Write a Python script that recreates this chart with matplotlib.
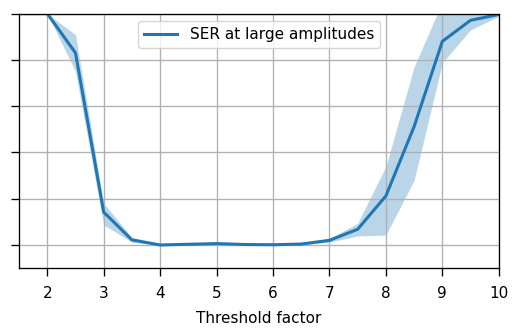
import matplotlib
matplotlib.use("Agg")
import matplotlib.pyplot as plt

x = [1.5, 2.0, 2.5, 3.0, 3.5, 4.0, 4.5, 5.0, 5.5, 6.0, 6.5, 7.0, 7.5, 8.0, 8.5, 9.0, 9.5, 10.0]
ser = [1.0, 1.0, 0.83, 0.142, 0.022, 0.0, 0.003, 0.006, 0.002, 0.001, 0.004, 0.02, 0.068, 0.212, 0.512, 0.88, 0.971, 0.996]
upper = [1.0, 1.0, 0.909, 0.18, 0.032, 0.004, 0.007, 0.01, 0.006, 0.004, 0.008, 0.028, 0.094, 0.34, 0.77, 1.05, 1.05, 1.05]
lower = [1.0, 1.0, 0.75, 0.087, 0.012, 0.0, 0.0, 0.002, 0.0, 0.0, 0.001, 0.012, 0.039, 0.043, 0.28, 0.787, 0.93, 0.988]
xticks = [2, 3, 4, 5, 6, 7, 8, 9, 10]
yticks = [0.0, 0.2, 0.4, 0.6, 0.8, 1.0]

fig = plt.figure(figsize=(5.17, 3.31), dpi=100)
ax = fig.add_axes([0.0368, 0.190, 0.928, 0.769])
ax.fill_between(x, lower, upper, color="#1f77b4", alpha=0.3, linewidth=0)
ax.plot(x, ser, color="#1f77b4", linewidth=2.2, label="SER at large amplitudes")
ax.set_xlim(1.5, 10)
ax.set_ylim(-0.1, 1.0)
ax.set_xticks(xticks)
ax.set_yticks(yticks)
ax.set_yticklabels([])
ax.tick_params(labelsize=11, length=6.1, width=0.95, pad=7)
for s in ax.spines.values():
    s.set_linewidth(0.95)
ax.grid(True, color="#b0b0b0", linewidth=0.95)
ax.set_xlabel("Threshold factor", fontsize=11, labelpad=7)
ax.legend(loc="upper center", fontsize=11, handlelength=2.2)
fig.savefig("out.png", dpi=100)
